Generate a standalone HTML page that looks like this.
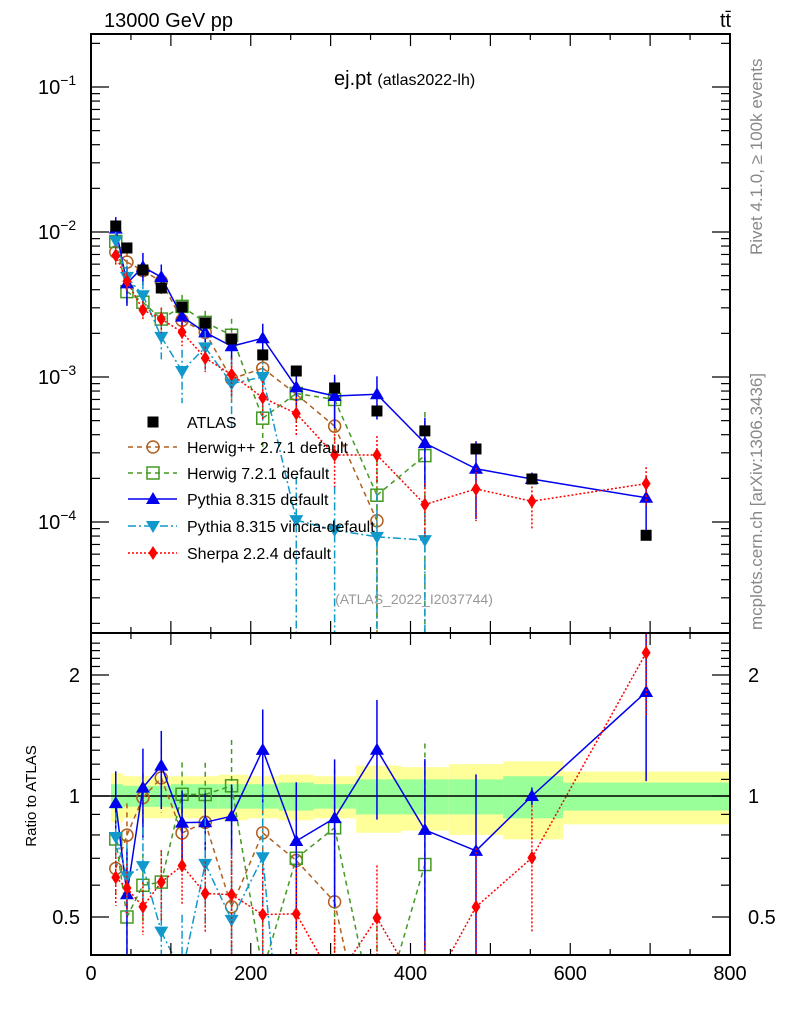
<!DOCTYPE html>
<html><head><meta charset="utf-8"><style>
html,body{margin:0;padding:0;background:#fff;overflow:hidden;width:786px;height:1024px;}
svg{display:block;font-family:"Liberation Sans",sans-serif;overflow:hidden;}
</style></head><body>
<svg id="chart" width="786" height="1024" viewBox="0 0 786 1024" xmlns="http://www.w3.org/2000/svg">
<g id="bands"></g>
<g id="ratio"></g>
<g id="main"></g>
<g id="axes"></g>
<text x="104" y="27" font-size="20">13000 GeV pp</text>
<text x="720" y="27" font-size="20">tt̄</text>
<text x="334" y="85" font-size="20">ej.pt <tspan font-size="16">(atlas2022-lh)</tspan></text>
<text x="414" y="604" font-size="14" fill="#999" text-anchor="middle">(ATLAS_2022_I2037744)</text>
<text transform="translate(762,255) rotate(-90)" font-size="17" fill="#888">Rivet 4.1.0, ≥ 100k events</text>
<text transform="translate(762,630) rotate(-90)" font-size="17" fill="#888">mcplots.cern.ch [arXiv:1306.3436]</text>
<text transform="translate(36,796) rotate(-90)" font-size="15" text-anchor="middle">Ratio to ATLAS</text>
<g id="legend"></g>
</svg>
<script>
const xVals=[31,45,65,88,114,143,176,215,257,305,358,418,482,552,695];
const atlas=[1.10e-2,7.76e-3,5.47e-3,4.11e-3,3.04e-3,2.36e-3,1.83e-3,1.42e-3,1.10e-3,8.4e-4,5.83e-4,4.25e-4,3.19e-4,1.98e-4,8.1e-5];
const herwigpp=[7.26e-3,6.2e-3,5.42e-3,4.56e-3,2.46e-3,2.03e-3,9.7e-4,1.15e-3,7.6e-4,4.58e-4,1.02e-4];
const herwigppErr=[0.15,0.2,0.15,0.18,0.15,0.2,0.3,0.2,0.3,0.3,1.0];
const herwig7=[8.6e-3,3.88e-3,3.28e-3,2.51e-3,3.07e-3,2.38e-3,1.94e-3,5.2e-4,7.7e-4,7.0e-4,1.53e-4,2.87e-4];
const herwig7Err=[0.1,0.2,0.2,0.2,0.2,0.2,0.3,0.4,0.4,0.4,1.0,1.0];
const pythia=[1.056e-2,4.42e-3,5.74e-3,4.89e-3,2.61e-3,2.03e-3,1.63e-3,1.85e-3,8.5e-4,7.4e-4,7.6e-4,3.5e-4,2.33e-4,1.98e-4,1.47e-4];
const pythiaErr=[0.2,0.3,0.25,0.22,0.2,0.18,0.2,0.26,0.4,0.4,0.33,0.5,0.55,0.05,0.4];
const vincia=[8.7e-3,4.9e-3,3.66e-3,1.89e-3,1.1e-3,1.6e-3,9.0e-4,1.0e-3,1.03e-4,8.8e-5,7.9e-5,7.5e-5];
const vinciaErr=[0.15,0.2,0.25,0.3,0.4,0.3,0.5,0.5,1.0,1.0,1.0,1.0];
const sherpa=[6.9e-3,4.58e-3,2.9e-3,2.51e-3,2.04e-3,1.35e-3,1.04e-3,7.2e-4,5.6e-4,2.9e-4,2.9e-4,1.32e-4,1.69e-4,1.39e-4,1.84e-4];
const sherpaErr=[0.15,0.15,0.15,0.2,0.2,0.2,0.3,0.3,0.3,0.4,0.35,0.4,0.4,0.35,0.3];
const binEdges=[25,40,55,75,100,128,160,196,235,279,332,389,448,516,591,800];
const bandYellow=[0.14,0.12,0.12,0.12,0.12,0.12,0.13,0.12,0.13,0.12,0.19,0.18,0.20,0.22,0.15];
const bandGreen=[0.07,0.06,0.06,0.06,0.07,0.07,0.07,0.07,0.08,0.07,0.10,0.10,0.10,0.12,0.08];
const xTicks=[0,200,400,600,800];
const yTicksMain=[-1,-2,-3,-4];
const yTicksRatio=[2,1,0.5];

const NS="http://www.w3.org/2000/svg";
const L=91,R=730,T=34,MB=633,B=955;
const X=v=>L+v*(R-L)/800;
const Y=v=>87+(-1-Math.log10(v))*145;
const RY=r=>796-Math.log2(r)*121;
function el(tag,attrs,parent){const e=document.createElementNS(NS,tag);for(const k in attrs)e.setAttribute(k,attrs[k]);parent.appendChild(e);return e;}
const main=document.getElementById('main'),ratio=document.getElementById('ratio'),axes=document.getElementById('axes'),bands=document.getElementById('bands'),legend=document.getElementById('legend');

// clip polyline to y range [top,bot]
function clippedPath(pts,top,bot){
  let d='';
  for(let i=0;i<pts.length-1;i++){
    let [x1,y1]=pts[i],[x2,y2]=pts[i+1];
    if((y1<top&&y2<top)||(y1>bot&&y2>bot))continue;
    const cut=(xa,ya,xb,yb,yl)=>[xa+(xb-xa)*(yl-ya)/(yb-ya),yl];
    if(y1>bot)[x1,y1]=cut(x1,y1,x2,y2,bot);
    if(y1<top)[x1,y1]=cut(x1,y1,x2,y2,top);
    if(y2>bot)[x2,y2]=cut(pts[i][0],pts[i][1],x2,y2,bot);
    if(y2<top)[x2,y2]=cut(pts[i][0],pts[i][1],x2,y2,top);
    d+='M'+x1+' '+y1+'L'+x2+' '+y2;
  }
  return d;
}
const cl=(y,a,b)=>Math.max(a,Math.min(b,y));

for(let i=0;i<bandYellow.length;i++){
  const x0=X(binEdges[i]),x1=X(binEdges[i+1]);
  const y1=el('rect',{x:x0,y:RY(1+bandYellow[i]),width:x1-x0,height:RY(1-bandYellow[i])-RY(1+bandYellow[i]),fill:'#ffff99'},bands);
  
  
  const g1=el('rect',{x:x0,y:RY(1+bandGreen[i]),width:x1-x0,height:RY(1-bandGreen[i])-RY(1+bandGreen[i]),fill:'#99ff99'},bands);
  
  
}
const one=el('line',{x1:L,x2:R,y1:RY(1),y2:RY(1),stroke:'#000','stroke-width':1.5},bands);



function marker(type,color,x,y,parent){
  let m;
  if(type==='square') m=el('rect',{x:x-5.5,y:y-5.5,width:11,height:11,fill:'#000'},parent);
  else if(type==='circle') m=el('circle',{cx:x,cy:y,r:6,fill:'none',stroke:color,'stroke-width':1.5},parent);
  else if(type==='osquare') m=el('rect',{x:x-6,y:y-6,width:12,height:12,fill:'none',stroke:color,'stroke-width':1.5},parent);
  else if(type==='up') m=el('polygon',{points:`${x},${y-7} ${x-7},${y+5} ${x+7},${y+5}`,fill:color},parent);
  else if(type==='down') m=el('polygon',{points:`${x},${y+7} ${x-7},${y-5} ${x+7},${y-5}`,fill:color},parent);
  else m=el('polygon',{points:`${x},${y-7} ${x-4.5},${y} ${x},${y+7} ${x+4.5},${y}`,fill:color},parent);
  return m;
}
const series=[
 {name:'herwigpp',vals:herwigpp,err:herwigppErr,color:'#b06020',dash:'5,4',mk:'circle',label:'Herwig++ 2.7.1 default'},
 {name:'herwig7',vals:herwig7,err:herwig7Err,color:'#449922',dash:'5,4',mk:'osquare',label:'Herwig 7.2.1 default'},
 {name:'pythia',vals:pythia,err:pythiaErr,color:'#0000ee',dash:'',mk:'up',label:'Pythia 8.315 default'},
 {name:'vincia',vals:vincia,err:vinciaErr,color:'#1199cc',dash:'8,3,2,3',mk:'down',label:'Pythia 8.315 vincia-default'},
 {name:'sherpa',vals:sherpa,err:sherpaErr,color:'#ff0000',dash:'2,2',mk:'diamond',label:'Sherpa 2.2.4 default'}
];

series.forEach(s=>{
  const gm=el('g',{},main);
  
  
  const gr=el('g',{},ratio);
  
  
  const pm=s.vals.map((v,i)=>[X(xVals[i]),Y(v)]);
  const pr=s.vals.map((v,i)=>[X(xVals[i]),RY(v/atlas[i])]);
  const lm=el('path',{d:clippedPath(pm,T,MB),fill:'none',stroke:s.color,'stroke-width':1.5,'stroke-dasharray':s.dash},gm);
  
  
  const lr=el('path',{d:clippedPath(pr,MB,B),fill:'none',stroke:s.color,'stroke-width':1.5,'stroke-dasharray':s.dash},gr);
  
  
  s.vals.forEach((v,i)=>{
    const x=X(xVals[i]),e=s.err[i];
    const lo=v*(1-e)<=0?1e-9:v*(1-e),hi=v*(1+e);
    el('line',{x1:x,x2:x,y1:cl(Y(hi),T,MB),y2:cl(Y(lo),T,MB),stroke:s.color,'stroke-width':1.5,'stroke-dasharray':s.dash},gm);
    const r=v/atlas[i];
    const ya=cl(RY(r*(1+e)),MB,B),yb=cl(RY(lo/atlas[i]),MB,B);
    if(yb>ya) el('line',{x1:x,x2:x,y1:ya,y2:yb,stroke:s.color,'stroke-width':1.5,'stroke-dasharray':s.dash},gr);
    if(Y(v)>=T&&Y(v)<=MB){
      const m1=marker(s.mk,s.color,x,Y(v),gm);
      
      
    }
    if(RY(r)>=MB&&RY(r)<=B+4){
      const m2=marker(s.mk,s.color,x,RY(r),gr);
      
      
    }
  });
});
atlas.forEach((v,i)=>{
  const m=marker('square','#000',X(xVals[i]),Y(v),main);
  
  
});
// white cover below ratio frame
el('rect',{x:L-1,y:B+1,width:R-L+2,height:8,fill:'#fff'},axes);

el('rect',{x:L,y:T,width:R-L,height:MB-T,fill:'none',stroke:'#000','stroke-width':2},axes);
el('rect',{x:L,y:MB,width:R-L,height:B-MB,fill:'none',stroke:'#000','stroke-width':2},axes);
for(let v=0;v<=800;v+=50){
  const x=X(v),len=v%100===0?12:6;
  [[T,1],[MB,-1],[MB,1],[B,-1]].forEach(([y,d])=>el('line',{x1:x,x2:x,y1:y,y2:y+d*len,stroke:'#000','stroke-width':1.2},axes));
}
xTicks.forEach(v=>{
  const t=el('text',{x:X(v),y:980,'font-size':20,'text-anchor':'middle'},axes);t.textContent=v;
  
  
});
for(let d=-5;d<=-1;d++){
  for(let k=1;k<10;k++){
    const v=k*Math.pow(10,d),y=Y(v);if(y<T||y>MB)continue;
    const len=k===1?18:9;
    el('line',{x1:L,x2:L+len,y1:y,y2:y,stroke:'#000','stroke-width':1.2},axes);
    el('line',{x1:R,x2:R-len,y1:y,y2:y,stroke:'#000','stroke-width':1.2},axes);
  }
}
yTicksMain.forEach(d=>{
  const t=el('text',{x:38,y:Y(Math.pow(10,d))+7,'font-size':20},axes);
  t.innerHTML='10<tspan dy="-9" font-size="14">'+(d<0?'−'+(-d):d)+'</tspan>';
  
  
});
for(let v=0.4;v<=2.5;v+=0.1){
  const y=RY(v);if(y<MB||y>B)continue;
  const major=[0.5,1,2].some(m=>Math.abs(m-v)<1e-6);const len=major?18:9;
  el('line',{x1:L,x2:L+len,y1:y,y2:y,stroke:'#000','stroke-width':1.2},axes);
  el('line',{x1:R,x2:R-len,y1:y,y2:y,stroke:'#000','stroke-width':1.2},axes);
}
yTicksRatio.forEach(v=>{
  const t=el('text',{x:80,y:RY(v)+7,'font-size':20,'text-anchor':'end'},axes);t.textContent=v;
  
  
  const t2=el('text',{x:748,y:RY(v)+7,'font-size':20},axes);t2.textContent=v;
  
  
});
const legY=[422,447,473,499,526,553];
const e0=el('g',{},legend);


marker('square','#000',153,legY[0],e0);
el('text',{x:187,y:legY[0]+6,'font-size':16},e0).textContent='ATLAS';
series.forEach((s,i)=>{
  const g=el('g',{},legend);
  
  
  const y=legY[i+1];
  el('line',{x1:128,x2:177,y1:y,y2:y,stroke:s.color,'stroke-width':1.5,'stroke-dasharray':s.dash},g);
  marker(s.mk,s.color,153,y,g);
  el('text',{x:187,y:y+6,'font-size':16},g).textContent=s.label;
});
</script>
</body></html>
